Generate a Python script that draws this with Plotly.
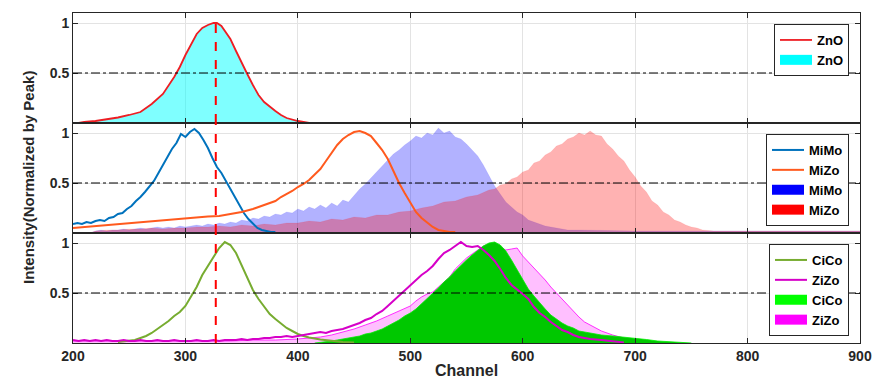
import plotly.graph_objects as go
from plotly.subplots import make_subplots

# ---------------- data ----------------
zno_x = [205, 210, 220, 230, 240, 250, 260, 270, 280, 290, 295, 300, 305, 310, 315, 320, 325, 328,
         332, 336, 340, 345, 350, 355, 360, 365, 370, 375, 380, 385, 390, 400, 410]
zno_y = [0.0, 0.01, 0.02, 0.035, 0.055, 0.08, 0.11, 0.19, 0.29, 0.46, 0.56, 0.68, 0.79, 0.89, 0.95,
         0.98, 1.0, 1.0, 0.97, 0.91, 0.84, 0.72, 0.6, 0.49, 0.38, 0.28, 0.21, 0.16, 0.12, 0.08, 0.05,
         0.02, 0.0]

mimo_line_x = [200, 204, 208, 212, 216, 220, 224, 228, 232, 236, 240, 244, 248, 252, 256, 260, 264,
               268, 272, 276, 280, 284, 288, 292, 296, 300, 304, 308, 312, 316, 320, 324, 328, 332,
               336, 340, 344, 348, 352, 356, 360, 364, 368, 372, 376, 380]
mimo_line_y = [0.09, 0.1, 0.09, 0.11, 0.1, 0.12, 0.13, 0.12, 0.15, 0.16, 0.19, 0.2, 0.24, 0.27, 0.32,
               0.36, 0.41, 0.46, 0.52, 0.6, 0.68, 0.76, 0.84, 0.9, 0.99, 0.96, 1.01, 1.04, 1.0, 0.93,
               0.85, 0.75, 0.66, 0.6, 0.52, 0.43, 0.36, 0.27, 0.2, 0.14, 0.09, 0.05, 0.03, 0.02, 0.01,
               0.01]

mizo_line_x = [200, 210, 220, 230, 240, 250, 260, 270, 280, 290, 300, 310, 320, 330, 340, 350, 360,
               370, 380, 385, 390, 395, 400, 405, 410, 415, 420, 425, 430, 435, 440, 445, 450, 455,
               460, 465, 470, 475, 480, 485, 490, 495, 500, 505, 510, 515, 520, 525, 530, 535, 540]
mizo_line_y = [0.05, 0.06, 0.07, 0.08, 0.09, 0.1, 0.11, 0.12, 0.13, 0.14, 0.15, 0.155, 0.165, 0.17,
               0.19, 0.21, 0.24, 0.28, 0.32, 0.36, 0.39, 0.42, 0.46, 0.49, 0.53, 0.58, 0.64, 0.72,
               0.8, 0.88, 0.94, 0.98, 1.01, 1.02, 1.0, 0.97, 0.9, 0.83, 0.74, 0.62, 0.5, 0.4, 0.3,
               0.21, 0.15, 0.1, 0.06, 0.03, 0.02, 0.01, 0.01]

mimo_fill_x = [215, 220, 225, 230, 235, 240, 245, 250, 255, 260, 265, 270, 275, 280, 285, 290, 295,
               300, 305, 310, 315, 320, 325, 330, 335, 340, 345, 350, 355, 360, 365, 370, 375, 380,
               385, 390, 395, 400, 405, 410, 415, 420, 425, 430, 435, 440, 445, 450, 455, 460, 465,
               470, 475, 480, 485, 490, 495, 500, 505, 510, 515, 520, 525, 530, 535, 540, 545, 550,
               555, 560, 565, 570, 575, 580, 585, 590, 595, 600, 605, 610, 615, 620, 625, 630, 640,
               650, 700, 800, 900]
mimo_fill_y = [0.0, 0.02, 0.03, 0.02, 0.03, 0.03, 0.04, 0.03, 0.04, 0.05, 0.04, 0.05, 0.06, 0.05,
               0.06, 0.05, 0.07, 0.06, 0.07, 0.08, 0.07, 0.09, 0.08, 0.1, 0.09, 0.11, 0.1, 0.13, 0.12,
               0.15, 0.14, 0.17, 0.16, 0.19, 0.18, 0.21, 0.2, 0.24, 0.22, 0.26, 0.24, 0.28, 0.25, 0.3,
               0.27, 0.33, 0.31, 0.38, 0.44, 0.49, 0.55, 0.6, 0.67, 0.72, 0.79, 0.83, 0.88, 0.92,
               0.97, 0.95, 1.0, 0.98, 1.05, 1.0, 1.02, 0.96, 0.94, 0.89, 0.83, 0.77, 0.68, 0.58, 0.47,
               0.39, 0.31, 0.26, 0.21, 0.18, 0.13, 0.11, 0.09, 0.07, 0.06, 0.05, 0.03, 0.03, 0.02,
               0.02, 0.02]

mizo_fill_x = [215, 220, 230, 240, 250, 260, 270, 280, 290, 300, 310, 320, 330, 340, 350, 360, 370,
               380, 390, 400, 410, 420, 430, 440, 450, 460, 470, 480, 490, 500, 510, 520, 530, 540,
               550, 560, 570, 575, 580, 585, 590, 595, 600, 605, 610, 615, 620, 625, 630, 635, 640,
               645, 650, 655, 660, 665, 670, 675, 680, 685, 690, 695, 700, 705, 710, 715, 720, 725,
               730, 735, 740, 745, 750, 755, 760, 770, 900]
mizo_fill_y = [0.0, 0.02, 0.03, 0.03, 0.04, 0.04, 0.05, 0.04, 0.05, 0.05, 0.06, 0.06, 0.07, 0.06,
               0.08, 0.07, 0.09, 0.08, 0.1, 0.1, 0.12, 0.11, 0.14, 0.13, 0.16, 0.15, 0.18, 0.18, 0.21,
               0.22, 0.25, 0.27, 0.31, 0.32, 0.36, 0.38, 0.43, 0.44, 0.48, 0.49, 0.54, 0.56, 0.61,
               0.63, 0.7, 0.72, 0.78, 0.81, 0.87, 0.89, 0.94, 0.96, 1.0, 0.98, 1.02, 0.98, 0.97, 0.89,
               0.84, 0.77, 0.72, 0.63, 0.56, 0.47, 0.41, 0.32, 0.28, 0.21, 0.18, 0.13, 0.11, 0.08,
               0.06, 0.05, 0.03, 0.02, 0.02]

cico_line_x = [240, 250, 255, 260, 265, 270, 275, 280, 285, 290, 295, 300, 305, 310, 315, 320, 325,
               330, 335, 340, 345, 350, 355, 360, 365, 370, 375, 380, 385, 390, 395, 400, 405, 410,
               420, 430, 440, 450]
cico_line_y = [0.01, 0.02, 0.03, 0.05, 0.07, 0.1, 0.14, 0.18, 0.22, 0.27, 0.31, 0.37, 0.46, 0.56,
               0.68, 0.77, 0.86, 0.95, 1.01, 0.98, 0.9, 0.78, 0.66, 0.53, 0.44, 0.36, 0.29, 0.24,
               0.19, 0.15, 0.12, 0.09, 0.07, 0.055, 0.035, 0.02, 0.01, 0.005]

zizo_line_x = [200, 205, 210, 215, 220, 225, 230, 235, 240, 245, 250, 255, 260, 265, 270, 275, 280,
               285, 290, 295, 300, 305, 310, 315, 320, 325, 330, 335, 340, 345, 350, 355, 360, 365,
               370, 375, 380, 385, 390, 395, 400, 405, 410, 415, 420, 425, 430, 435, 440, 445, 450,
               455, 460, 465, 470, 475, 480, 485, 490, 495, 500, 505, 510, 515, 520, 525, 530, 535,
               540, 545, 550, 555, 560, 565, 570, 575, 580, 585, 590, 595, 600, 605, 610, 615, 620,
               625, 630, 635, 640, 645, 650, 655, 660, 670, 680, 690]
zizo_line_y = [0.03, 0.02, 0.03, 0.02, 0.03, 0.02, 0.03, 0.02, 0.02, 0.03, 0.02, 0.02, 0.03, 0.02,
               0.02, 0.03, 0.02, 0.02, 0.03, 0.02, 0.02, 0.02, 0.03, 0.02, 0.02, 0.03, 0.02, 0.03,
               0.03, 0.03, 0.04, 0.03, 0.04, 0.04, 0.05, 0.05, 0.06, 0.06, 0.07, 0.06, 0.07, 0.08,
               0.09, 0.1, 0.11, 0.1, 0.12, 0.13, 0.14, 0.16, 0.18, 0.2, 0.23, 0.25, 0.29, 0.32, 0.37,
               0.42, 0.48, 0.53, 0.58, 0.63, 0.68, 0.72, 0.77, 0.84, 0.9, 0.93, 0.97, 1.01, 0.97,
               0.96, 0.97, 0.93, 0.88, 0.82, 0.74, 0.65, 0.58, 0.53, 0.49, 0.44, 0.36, 0.3, 0.26,
               0.21, 0.17, 0.13, 0.11, 0.08, 0.06, 0.05, 0.04, 0.03, 0.015, 0.005]

zizo_fill_x = [200, 220, 240, 260, 280, 300, 320, 340, 360, 380, 400, 410, 420, 430, 440, 450, 460,
               470, 480, 490, 500, 505, 510, 515, 520, 525, 530, 535, 540, 545, 550, 555, 560, 565,
               570, 575, 580, 585, 590, 595, 600, 605, 610, 615, 620, 625, 630, 635, 640, 645, 650,
               655, 660, 665, 670, 680, 690, 700, 710, 720]
zizo_fill_y = [0.02, 0.02, 0.02, 0.02, 0.02, 0.02, 0.02, 0.02, 0.03, 0.03, 0.04, 0.05, 0.06, 0.08,
               0.11, 0.14, 0.18, 0.22, 0.27, 0.32, 0.37, 0.42, 0.46, 0.49, 0.51, 0.56, 0.61, 0.66,
               0.74, 0.8, 0.85, 0.89, 0.93, 0.97, 0.99, 1.0, 0.96, 0.93, 0.94, 0.95, 0.87, 0.81,
               0.75, 0.7, 0.63, 0.56, 0.5, 0.44, 0.38, 0.31, 0.26, 0.21, 0.18, 0.15, 0.12, 0.08,
               0.05, 0.03, 0.015, 0.005]

cico_fill_x = [415, 420, 425, 430, 435, 440, 445, 450, 455, 460, 465, 470, 475, 480, 485, 490, 495,
               500, 505, 510, 515, 520, 525, 530, 535, 540, 545, 550, 555, 560, 565, 570, 575, 580,
               585, 590, 595, 600, 605, 610, 615, 620, 625, 630, 635, 640, 645, 650, 655, 660, 665,
               670, 680, 690, 700, 710, 720, 730, 740, 750]
cico_fill_y = [0.0, 0.005, 0.01, 0.02, 0.03, 0.04, 0.05, 0.06, 0.07, 0.09, 0.1, 0.12, 0.14, 0.17,
               0.2, 0.23, 0.27, 0.3, 0.34, 0.39, 0.45, 0.5, 0.55, 0.61, 0.66, 0.72, 0.78, 0.83, 0.88,
               0.93, 0.97, 1.0, 1.01, 0.98, 0.92, 0.83, 0.73, 0.63, 0.54, 0.47, 0.4, 0.34, 0.28,
               0.24, 0.2, 0.17, 0.15, 0.12, 0.11, 0.1, 0.09, 0.08, 0.07, 0.06, 0.045, 0.035, 0.02,
               0.012, 0.006, 0.0]

ref_channel = 327          # red dashed reference line
x_ticks = [200, 300, 400, 500, 600, 700, 800, 900]
y_ticks = [0.5, 1]
y_tick_text = ["0.5", "1"]

# ---------------- figure ----------------
AX = "#262626"
FONT = "Liberation Sans"
fig = make_subplots(rows=3, cols=1, shared_xaxes=True, vertical_spacing=0)


def line(x, y, name, color, legend, row, width=2.0):
    fig.add_trace(go.Scatter(x=x, y=y, mode="lines", name=name, legend=legend,
                             line=dict(color=color, width=width)), row=row, col=1)


def area(x, y, fillcolor, edge, row, edgewidth=0.8):
    fig.add_trace(go.Scatter(x=x, y=y, mode="lines", fill="tozeroy", fillcolor=fillcolor,
                             line=dict(color=edge, width=edgewidth), showlegend=False,
                             hoverinfo="skip"), row=row, col=1)


def swatch(name, color, legend, row):
    fig.add_trace(go.Scatter(x=[None], y=[None], mode="lines", name=name, legend=legend,
                             line=dict(color=color, width=11)), row=row, col=1)


# row 1
area(zno_x, zno_y, "rgba(0,255,255,0.5)", "rgba(0,0,0,0)", 1, 0)
line(zno_x, zno_y, "ZnO", "#EE1D23", "legend", 1, 1.8)
swatch("ZnO", "#00FFFF", "legend", 1)

# row 2
area(mimo_fill_x, mimo_fill_y, "rgba(0,0,255,0.3)", "rgba(0,0,255,0.15)", 2, 0.5)
area(mizo_fill_x, mizo_fill_y, "rgba(255,0,0,0.3)", "rgba(255,0,0,0.15)", 2, 0.5)
line(mimo_line_x, mimo_line_y, "MiMo", "#0072BD", "legend2", 2)
line(mizo_line_x, mizo_line_y, "MiZo", "#FF5A1E", "legend2", 2)
swatch("MiMo", "#0000FF", "legend2", 2)
swatch("MiZo", "#FF0000", "legend2", 2)

# row 3
area(zizo_fill_x, zizo_fill_y, "rgba(255,0,255,0.25)", "#FF00FF", 3, 0.8)
area(cico_fill_x, cico_fill_y, "#00C800", "#00EE00", 3, 0.8)
line(cico_line_x, cico_line_y, "CiCo", "#77AC30", "legend3", 3)
line(zizo_line_x, zizo_line_y, "ZiZo", "#D600C8", "legend3", 3)
swatch("CiCo", "#00FF00", "legend3", 3)
swatch("ZiZo", "#FF00FF", "legend3", 3)

tickfont = dict(family=FONT, size=14, color=AX, weight="bold")
for r in (1, 2, 3):
    fig.update_xaxes(row=r, col=1, range=[200, 900], tickvals=x_ticks, showgrid=True,
                     gridcolor="#E3E3E3", gridwidth=1, showline=True, linecolor=AX, linewidth=1,
                     mirror="ticks", ticks="inside", ticklen=5, tickcolor=AX,
                     showticklabels=(r == 3), tickfont=tickfont, zeroline=False,
                     automargin=False)
    fig.update_yaxes(row=r, col=1, range=[0, 1.1], tickvals=y_ticks, ticktext=y_tick_text,
                     showgrid=True, gridcolor="#E3E3E3", showline=True, linecolor=AX,
                     linewidth=1, mirror="ticks", ticks="inside", ticklen=5, tickcolor=AX,
                     tickfont=tickfont, zeroline=False, automargin=False)

fig.update_layout(yaxis=dict(domain=[2 / 3, 1]), yaxis2=dict(domain=[1 / 3, 2 / 3]),
                  yaxis3=dict(domain=[0, 1 / 3]))

# reference lines
for r, yref in ((1, "y"), (2, "y2"), (3, "y3")):
    xref = "x" if r == 1 else f"x{r}"
    fig.add_shape(type="line", xref=f"{xref} domain", yref=yref, x0=0, x1=1, y0=0.5, y1=0.5,
                  line=dict(color="black", width=1, dash="dashdot"))
    fig.add_shape(type="line", xref=xref, yref=yref, x0=ref_channel, x1=ref_channel,
                  y0=0, y1=(1.0 if r == 1 else 1.1),
                  line=dict(color="#FF0000", width=2, dash="dash"))

legfont = dict(family=FONT, size=13, color="black", weight="bold")
leg_common = dict(xanchor="right", yanchor="top", bgcolor="white", bordercolor=AX,
                  borderwidth=1, font=legfont, itemwidth=32, tracegroupgap=0)
W, L, R, T, B, H = 877, 73, 17, 13, 36, 379
pw, ph = W - L - R, H - T - B


def px2paper(xp, yp):
    return (xp - L) / pw, 1 - (yp - T) / ph


lx, ly1 = px2paper(849, 24)
_, ly2 = px2paper(849, 134)
_, ly3 = px2paper(849, 244)
fig.update_layout(legend=dict(x=lx, y=ly1, **leg_common),
                  legend2=dict(x=lx, y=ly2, **leg_common),
                  legend3=dict(x=lx, y=ly3, **leg_common))

ax_x, ax_y = px2paper(28, 178)
cx, cy = px2paper(466, 370)
fig.add_annotation(text="Intensity(Normalized by Peak)", xref="paper", yref="paper", x=ax_x,
                   y=ax_y, textangle=-90, showarrow=False, xanchor="center", yanchor="middle",
                   font=dict(family=FONT, size=15, color=AX, weight="bold"))
fig.add_annotation(text="Channel", xref="paper", yref="paper", x=cx, y=cy, showarrow=False,
                   xanchor="center", yanchor="middle",
                   font=dict(family=FONT, size=16, color=AX, weight="bold"))

fig.update_layout(width=W, height=H, margin=dict(l=L, r=R, t=T, b=B, autoexpand=False),
                  plot_bgcolor="white", paper_bgcolor="white", showlegend=True)

fig.write_html("out.html", config={"displayModeBar": False})

# remove the browser's default page margin so the figure sits at the window's origin
with open("out.html", "r", encoding="utf-8") as f:
    html = f.read()
html = html.replace("<head>", "<head><style>html,body{margin:0;padding:0;overflow:hidden;}</style>", 1)
with open("out.html", "w", encoding="utf-8") as f:
    f.write(html)
